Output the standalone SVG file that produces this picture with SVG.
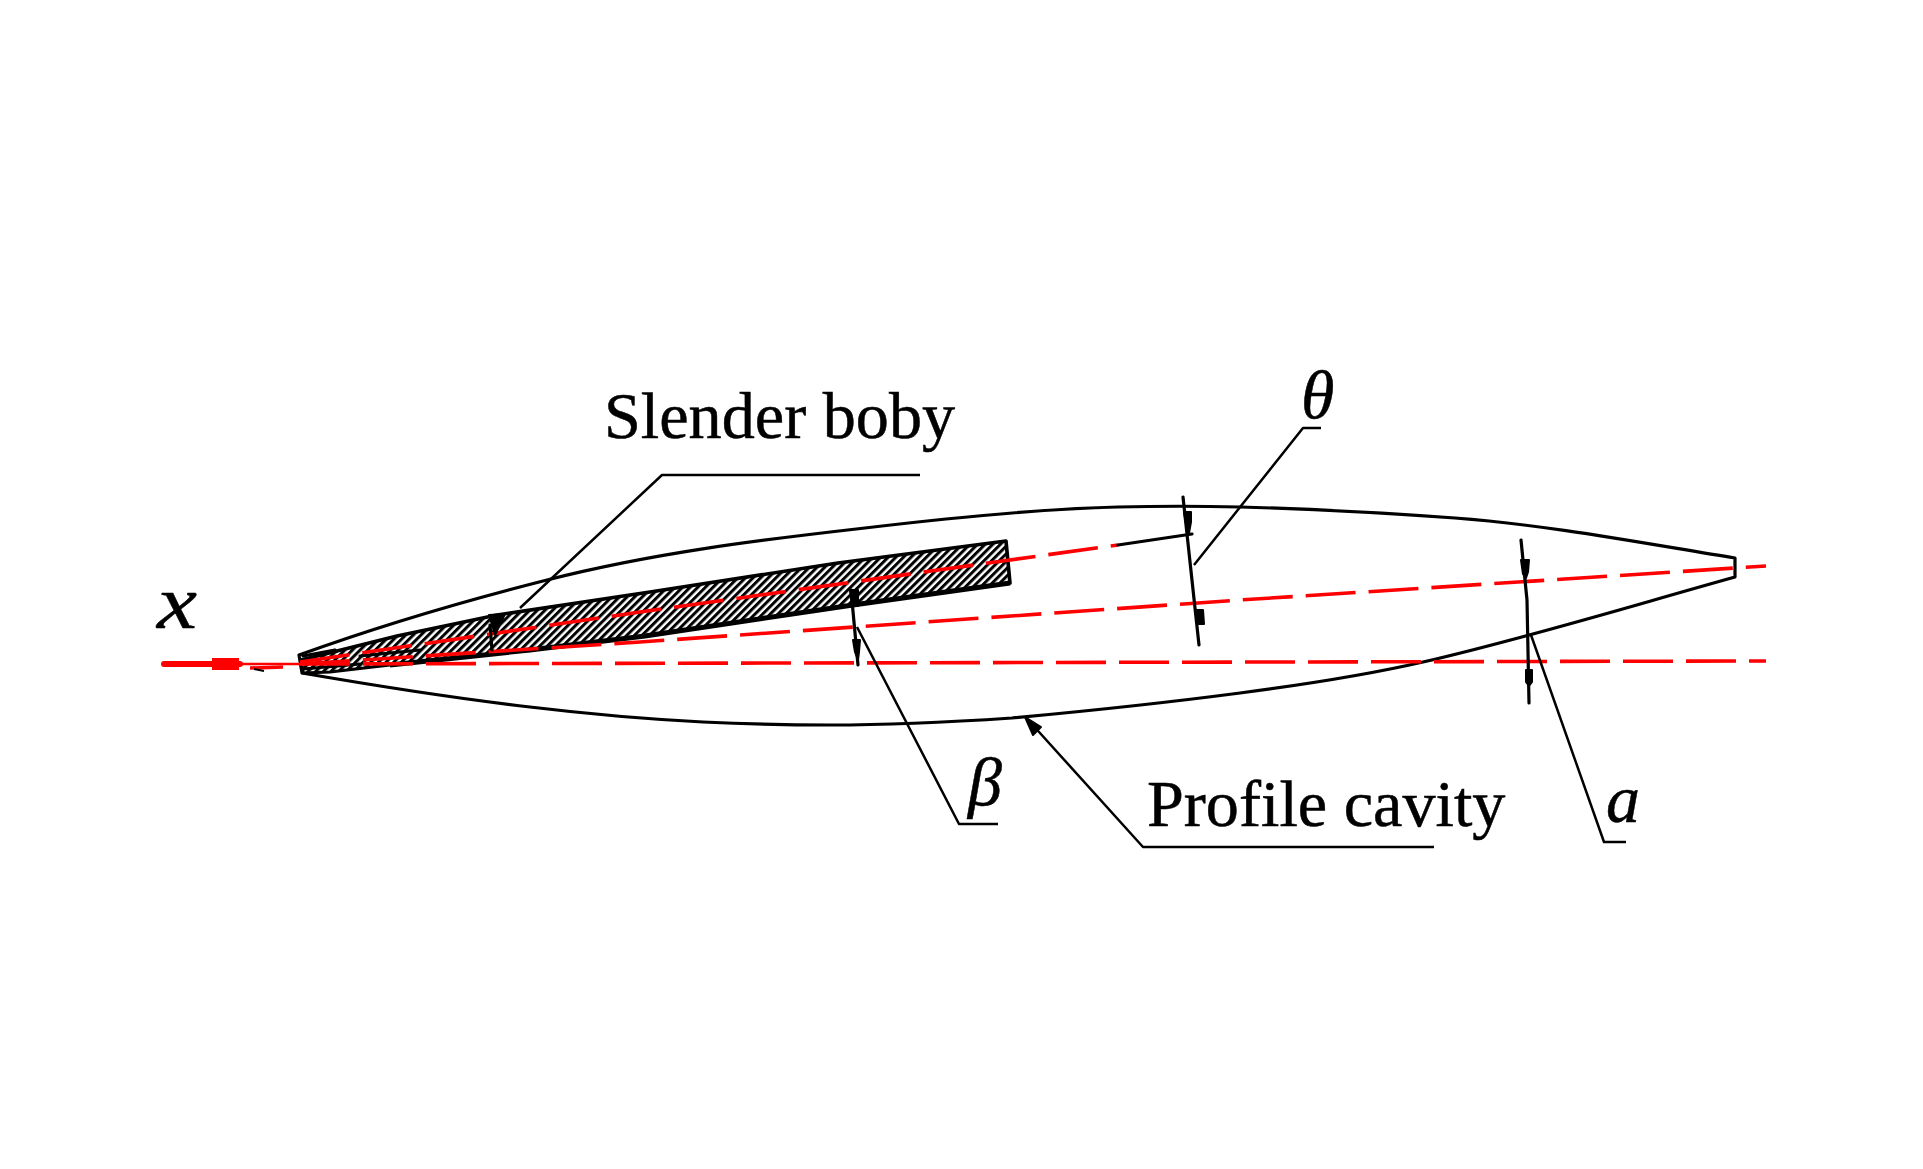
<svg xmlns="http://www.w3.org/2000/svg" width="1923" height="1169" viewBox="0 0 1923 1169">
<style>
.o{fill:none;stroke:#000;stroke-width:3.2;stroke-linejoin:round;stroke-linecap:round}
.l{fill:none;stroke:#000;stroke-width:2.5;stroke-linejoin:round}
.d{fill:none;stroke:#f00;stroke-width:3.6}
.dash{stroke-dasharray:50 13}
.h{fill:#000;stroke:#000;stroke-width:2;stroke-linejoin:round}
text{font-family:"Liberation Serif","Times New Roman",serif;fill:#000;stroke:#000;stroke-width:.5}
.t{font-size:66.2px}
.m{font-size:68px;font-style:italic}
</style>
<defs>
<pattern id="hatch" width="5.4" height="5.4" patternUnits="userSpaceOnUse" patternTransform="rotate(-45)">
<rect width="5.4" height="5.4" fill="#fff"/>
<rect width="5.4" height="3" fill="#000"/>
</pattern>
</defs>
<rect width="1923" height="1169" fill="#fff"/>
<g id="slender-body">
<path d="M301 660L397 636L497 615L650 592L838 563L1006 541L1010 583L853 605L645 636L530 650L390 665L330 672L303 673Z" fill="url(#hatch)" stroke="none"/>
<path class="o" style="stroke-width:3.6" d="M301 660L397 636L497 615L650 592L838 563L1006 541L1010 583"/>
<path d="M1010 583L853 605L645 636L530 650L390 665" fill="none" stroke="#000" stroke-width="5"/>
<path class="o" d="M390 665L330 672L303 673L301 660"/>
<path class="o" d="M303 656L335 650M303 669L360 664M360 656L420 650"/>
</g>
<g id="profile-cavity">
<path class="o" d="M299 655C382 625 464 601 547 580C653 553 759 540 865 528C949 518 1034 509 1118 507C1159 506 1199 506 1240 507C1312 509 1385 513 1455 518C1548 525 1642 543 1735 558L1735 577C1631 606 1527 638 1423 662C1362 676 1301 685 1240 693C1164 703 1088 711 1012 718C952 722 891 725 830 725C788 725 745 724 703 722C645 719 588 714 530 707C453 698 377 686 302 673Z"/>
</g>
<g id="connectors">
<g id="axes">
<path class="d" style="stroke-width:6;stroke-linecap:round" d="M164 664H240"/>
<rect x="212" y="658" width="27" height="12" fill="#f00"/>
<path class="d" style="stroke-width:2.4" d="M240 664H300"/>
<path class="d" style="stroke-width:3.5" d="M250 668L283 667"/>
<path d="M254 669L264 671" stroke="#000" stroke-width="2"/>
<path class="d dash" d="M300 664L1766 661"/>
<path class="d dash" d="M300 664L640 642L1240 600L1766 566"/>
<path class="d dash" d="M300 662L640 612L988 563L1118 545"/>
<path class="o" d="M1118 545L1192 534"/>
</g>
<g id="dimensions">
<path class="o" d="M1183 497L1199 645"/>
<path class="h" d="M1184 512H1191L1191 522L1189 533L1186 524Z"/>
<path class="h" d="M1196 610H1203L1204 624L1197 624Z"/>
<path class="o" d="M851 590L858 665"/>
<path class="h" d="M853 640H860L859 652L858 660L855 652ZM850 590L858 590L858 606L852 606Z"/>
<path class="o" d="M1521 540L1527 600L1529 703"/>
<path class="h" d="M1521 560H1529L1528 572L1526 578L1523 574Z"/>
<path class="h" d="M1526 670H1532V682L1529 686L1526 682Z"/>
<path class="o" d="M490 625L492 650"/>
<path class="h" d="M489 615L505 614L495 635Z"/>
</g>
<g id="leaders">
<path class="l" d="M920 475H662L520 608"/>
<path class="l" d="M857 627L959 824H998"/>
<path class="l" d="M1194 565L1303 428H1321"/>
<path class="l" d="M1531 635L1604 842H1626"/>
<path class="l" d="M1030 722L1143 847H1434"/>
<path class="h" d="M1025 717L1041 727L1033 735Z"/>
</g>
</g>
<g id="labels">
<text class="t" x="604" y="438">Slender boby</text>
<text class="t" x="1147" y="826">Profile cavity</text>
<text class="m" style="font-size:76px" x="157" y="628" textLength="40" lengthAdjust="spacingAndGlyphs">x</text>
<text class="m" x="1301" y="418">θ</text>
<text class="m" x="968" y="805">β</text>
<text class="m" x="1606" y="822">a</text>
</g>
</svg>
